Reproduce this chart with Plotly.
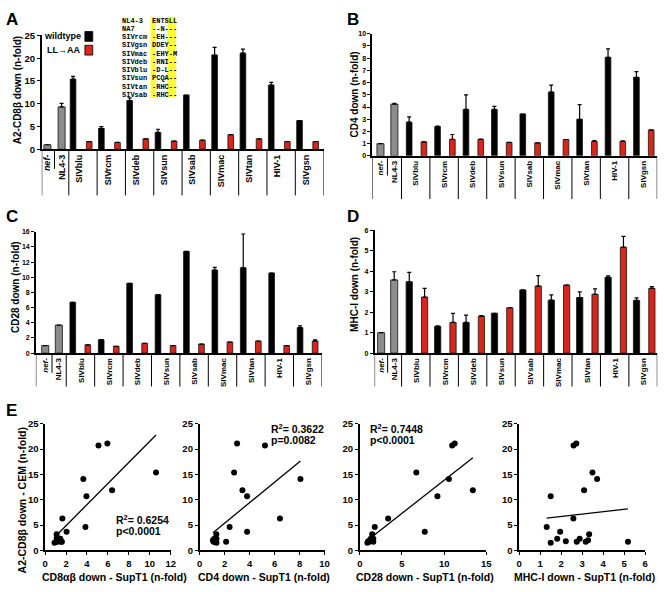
import numpy as np
import plotly.graph_objects as go

W, H = 664, 592
FONT = "Liberation Sans, Arial, sans-serif"
MONO = "Liberation Mono, Courier New, monospace"
BLACK = "#000000"
RED = "#d8261c"
GRAY = "#8c8c8c"

# ---------------- data ----------------
strains = ["SIVblu", "SIVrcm", "SIVdeb", "SIVsun", "SIVsab", "SIVmac", "SIVtan", "HIV-1", "SIVgsn"]
ctrl_labels = ["<i>nef-</i>", "NL4-3"]

# Panel A: A2-CD8beta down (CEM)
a_ctrl = [1.0, 9.3]
a_ctrl_err = [0.0, 0.8]
a_wt = [15.4, 4.6, 10.7, 3.7, 11.9, 20.7, 21.1, 14.1, 6.3]
a_wt_err = [0.6, 0.4, 0.6, 0.7, 0.0, 1.7, 0.9, 0.6, 0.0]
a_ll = [1.7, 1.5, 2.3, 1.8, 2.0, 3.2, 2.3, 1.7, 1.7]
a_ll_err = [0.0, 0.0, 0.0, 0.0, 0.0, 0.0, 0.0, 0.0, 0.0]

# Panel B: CD4 down
b_ctrl = [1.0, 4.24]
b_ctrl_err = [0.0, 0.06]
b_wt = [2.76, 2.4, 3.8, 3.8, 3.43, 5.23, 3.0, 8.07, 6.43]
b_wt_err = [0.44, 0.03, 1.2, 0.25, 0.0, 0.57, 1.2, 0.7, 0.47]
b_ll = [1.15, 1.35, 1.35, 1.1, 1.07, 1.34, 1.18, 1.18, 2.12]
b_ll_err = [0.0, 0.4, 0.03, 0.0, 0.0, 0.0, 0.06, 0.05, 0.02]

# Panel C: CD28 down
c_ctrl = [1.0, 3.7]
c_ctrl_err = [0.0, 0.0]
c_wt = [6.7, 1.77, 9.2, 7.7, 13.4, 10.95, 11.25, 10.56, 3.36]
c_wt_err = [0.0, 0.0, 0.0, 0.0, 0.0, 0.35, 4.45, 0.0, 0.24]
c_ll = [1.1, 0.9, 1.3, 1.0, 1.2, 1.47, 1.6, 1.0, 1.6]
c_ll_err = [0.0, 0.0, 0.0, 0.0, 0.0, 0.0, 0.0, 0.0, 0.15]

# Panel D: MHC-I down
d_ctrl = [1.0, 3.58]
d_ctrl_err = [0.0, 0.4]
d_wt = [3.49, 1.31, 1.5, 1.95, 3.09, 2.59, 2.72, 3.71, 2.58]
d_wt_err = [0.46, 0.03, 0.36, 0.0, 0.0, 0.26, 0.28, 0.07, 0.12]
d_ll = [2.74, 1.5, 1.81, 2.22, 3.28, 3.33, 2.88, 5.18, 3.17]
d_ll_err = [0.43, 0.44, 0.03, 0.0, 0.51, 0.0, 0.26, 0.53, 0.08]

# Panel E1: CD8alpha-beta down in SupT1 (x) vs A2-CD8beta down in CEM (y)
e1_wt_x = [10.6, 3.85, 3.95, 2.05, 6.4, 5.1, 5.95, 3.65, 1.65]
e1_ll_x = [1.55, 0.9, 1.1, 1.25, 1.35, 1.1, 1.45, 1.2, 1.6]

# Sequence inset
seq_names = ["NL4-3", "NA7", "SIVrcm", "SIVgsn", "SIVmac", "SIVdeb", "SIVblu", "SIVsun", "SIVtan", "SIVsab"]
seq_motifs = ["ENTSLL", "--N---", "-EH---", "DDEY--", "-EHY-M", "-RNI--", "-D-L--", "PCQA--", "-RHC--", "-RHC--"]

r2_texts = ["R<sup>2</sup>= 0.6254", "R<sup>2</sup>= 0.3622", "R<sup>2</sup>= 0.7448", None]
p_texts = ["p&lt;0.0001", "p=0.0082", "p&lt;0.0001", None]


def px(x):
    return x / W


def py(y):
    return 1 - y / H


fig = go.Figure()
shapes = []
annotations = []

bar_panels = [
    dict(letter="A", ctrl=a_ctrl, ctrl_err=a_ctrl_err, wt=a_wt, wt_err=a_wt_err, ll=a_ll, ll_err=a_ll_err,
         axis_px=39.3, gw=28.7, s1=0.955, ctrl_x=[0.2, 0.70], wt_off=0.15, ll_off=0.72, lab_off=0.37,
         bw=0.2, cw=0.25, ybot=146, ytop=30, ymax=25, dtick=5, sep=47, tfs=9.5, cfs=9,
         title="A2-CD8β down (n-fold)", tx=15, ty=86, letter_xy=(1, 2)),
    dict(letter="B", ctrl=b_ctrl, ctrl_err=b_ctrl_err, wt=b_wt, wt_err=b_wt_err, ll=b_ll, ll_err=b_ll_err,
         axis_px=374.3, gw=28.8, s1=1.03, ctrl_x=[0.29, 0.78], wt_off=0.27, ll_off=0.79, lab_off=0.5,
         bw=0.2, cw=0.25, ybot=152.7, ytop=28.3, ymax=10, dtick=1, sep=44, tfs=7, cfs=8,
         title="CD4 down (n-fold)", tx=356, ty=90, letter_xy=(347, 2)),
    dict(letter="C", ctrl=c_ctrl, ctrl_err=c_ctrl_err, wt=c_wt, wt_err=c_wt_err, ll=c_ll, ll_err=c_ll_err,
         axis_px=33.3, gw=28.8, s1=1.07, ctrl_x=[0.33, 0.81], wt_off=0.23, ll_off=0.76, lab_off=0.52,
         bw=0.2, cw=0.25, ybot=353.7, ytop=230, ymax=16, dtick=2, sep=34, tfs=7, cfs=8,
         title="CD28 down (n-fold)", tx=12.5, ty=286, letter_xy=(1, 203)),
    dict(letter="D", ctrl=d_ctrl, ctrl_err=d_ctrl_err, wt=d_wt, wt_err=d_wt_err, ll=d_ll, ll_err=d_ll_err,
         axis_px=376.7, gw=28.8, s1=0.95, ctrl_x=[0.23, 0.69], wt_off=0.27, ll_off=0.81, lab_off=0.53,
         bw=0.22, cw=0.25, ybot=353.7, ytop=228.7, ymax=6, dtick=1, sep=34, tfs=7, cfs=8,
         title="MHC-I down (n-fold)", tx=357, ty=284, letter_xy=(347, 203)),
]

layout_axes = {}


def err_dict(arr):
    return dict(type="data", array=arr, arrayminus=[0] * len(arr), symmetric=False,
                color=BLACK, thickness=1.2, width=2)


for i, p in enumerate(bar_panels):
    n = i + 1
    xa = "x" if n == 1 else f"x{n}"
    ya = "y" if n == 1 else f"y{n}"
    xend = p["s1"] + len(strains)
    wt_x = [p["s1"] + g + p["wt_off"] for g in range(len(strains))]
    ll_x = [p["s1"] + g + p["ll_off"] for g in range(len(strains))]
    lab_x = [p["s1"] + g + p["lab_off"] for g in range(len(strains))]
    line = dict(color="#111111", width=0.8)
    fig.add_trace(go.Bar(x=p["ctrl_x"], y=p["ctrl"], width=p["cw"], marker=dict(color=GRAY, line=line),
                         error_y=err_dict(p["ctrl_err"]), xaxis=xa, yaxis=ya, name="control"))
    fig.add_trace(go.Bar(x=wt_x, y=p["wt"], width=p["bw"], marker=dict(color=BLACK, line=line),
                         error_y=err_dict(p["wt_err"]), xaxis=xa, yaxis=ya, name="wildtype"))
    fig.add_trace(go.Bar(x=ll_x, y=p["ll"], width=p["bw"], marker=dict(color=RED, line=line),
                         error_y=err_dict(p["ll_err"]), xaxis=xa, yaxis=ya, name="LL→AA"))
    x0 = p["axis_px"]
    x1 = p["axis_px"] + xend * p["gw"]
    plot_h = p["ybot"] - p["ytop"]
    layout_axes["xaxis" if n == 1 else f"xaxis{n}"] = dict(
        domain=[px(x0), min(px(x1), 0.999)], range=[0, xend], anchor=ya, showline=True, linecolor=BLACK,
        linewidth=1.5, ticks="", showgrid=False, zeroline=False,
        tickvals=p["ctrl_x"] + lab_x, ticktext=ctrl_labels + strains, tickangle=-90,
        tickfont=dict(family=FONT, size=p["cfs"], color=BLACK, weight="bold"))
    layout_axes["yaxis" if n == 1 else f"yaxis{n}"] = dict(
        domain=[py(p["ybot"]), py(p["ytop"])], range=[0, p["ymax"]], dtick=p["dtick"], anchor=xa,
        showline=True, linecolor=BLACK, linewidth=1.5, ticks="outside", ticklen=3, tickwidth=1.2,
        tickcolor=BLACK, showgrid=False, zeroline=False,
        tickfont=dict(family=FONT, size=p["tfs"], color=BLACK, weight="bold"))
    # category separators
    seps = [0.0] + [p["s1"] + g for g in range(len(strains) + 1)]
    for s in seps:
        shapes.append(dict(type="line", xref=xa, yref=f"{ya} domain", x0=s, x1=s, y0=0,
                           y1=-p["sep"] / plot_h, line=dict(color=BLACK, width=1)))
    mid = (p["ctrl_x"][0] + p["ctrl_x"][1]) / 2
    shapes.append(dict(type="line", xref=xa, yref=f"{ya} domain", x0=mid, x1=mid, y0=0,
                       y1=-20 / plot_h, line=dict(color=BLACK, width=1)))
    annotations.append(dict(text=p["title"], x=px(p["tx"]), y=py(p["ty"]), xref="paper", yref="paper",
                            textangle=-90, showarrow=False, xanchor="center", yanchor="middle",
                            font=dict(family=FONT, size=10, color=BLACK, weight="bold")))
    lx, ly = p["letter_xy"]
    annotations.append(dict(text=p["letter"], x=px(lx), y=py(ly), xref="paper", yref="paper",
                            showarrow=False, xanchor="left", yanchor="top",
                            font=dict(family=FONT, size=17, color=BLACK, weight="bold")))

# Legend of panel A
annotations.append(dict(text="wildtype", x=px(81), y=py(31), xref="paper", yref="paper", showarrow=False,
                        xanchor="right", yanchor="middle", font=dict(family=FONT, size=9, color=BLACK, weight="bold")))
annotations.append(dict(text="LL→AA", x=px(80), y=py(45), xref="paper", yref="paper", showarrow=False,
                        xanchor="right", yanchor="middle", font=dict(family=FONT, size=9, color=BLACK, weight="bold")))
shapes.append(dict(type="rect", xref="paper", yref="paper", x0=px(83), x1=px(91), y0=py(36), y1=py(26),
                   fillcolor=BLACK, line=dict(color=BLACK, width=0.8)))
shapes.append(dict(type="rect", xref="paper", yref="paper", x0=px(83), x1=px(91), y0=py(50), y1=py(40),
                   fillcolor=RED, line=dict(color=BLACK, width=0.8)))

# Sequence inset with yellow highlights
shapes.append(dict(type="rect", xref="paper", yref="paper", x0=px(149.5), x1=px(154.2), y0=py(93), y1=py(11),
                   fillcolor="#ffff33", line=dict(width=0), layer="below"))
shapes.append(dict(type="rect", xref="paper", yref="paper", x0=px(166.6), x1=px(175.6), y0=py(93), y1=py(11),
                   fillcolor="#ffff33", line=dict(width=0), layer="below"))
for k, (nm, mt) in enumerate(zip(seq_names, seq_motifs)):
    yy = 15 + k * 8.4
    annotations.append(dict(text=nm, x=px(120), y=py(yy), xref="paper", yref="paper", showarrow=False,
                            xanchor="left", yanchor="middle", borderpad=0,
                            font=dict(family=MONO, size=7, color=BLACK, weight="bold")))
    annotations.append(dict(text=mt, x=px(149.6), y=py(yy), xref="paper", yref="paper", showarrow=False,
                            xanchor="left", yanchor="middle", borderpad=0,
                            font=dict(family=MONO, size=7, color=BLACK, weight="bold")))

# ---------------- Panel E scatter plots ----------------
scatter_panels = [
    dict(wx=e1_wt_x, lx=e1_ll_x, x0=42.7, x1=170, xmax=12, dtick=2,
         title="CD8αβ down - SupT1 (n-fold)", tcx=113, r2xy=(113, 523)),
    dict(wx=b_wt, lx=b_ll, x0=199.3, x1=326, xmax=10, dtick=2,
         title="CD4 down - SupT1 (n-fold)", tcx=265, r2xy=(270, 430.5)),
    dict(wx=c_wt, lx=c_ll, x0=361.7, x1=490, xmax=15, dtick=5,
         title="CD28 down - SupT1 (n-fold)", tcx=427.5, r2xy=(370, 430.5)),
    dict(wx=d_wt, lx=d_ll, x0=523.3, x1=651, xmax=6, dtick=1,
         title="MHC-I down - SupT1 (n-fold)", tcx=589, r2xy=None),
]
ys_all = a_wt + a_ll
for j, s in enumerate(scatter_panels):
    n = 5 + j
    xa, ya = f"x{n}", f"y{n}"
    xs_all = list(s["wx"]) + list(s["lx"])
    fig.add_trace(go.Scatter(x=xs_all, y=ys_all, mode="markers", xaxis=xa, yaxis=ya,
                             marker=dict(color=BLACK, size=6), cliponaxis=False, name="strains"))
    coef = np.polyfit(xs_all, ys_all, 1)
    xl = np.array([min(xs_all), max(xs_all)])
    fig.add_trace(go.Scatter(x=xl, y=np.polyval(coef, xl), mode="lines", xaxis=xa, yaxis=ya,
                             line=dict(color=BLACK, width=1.3), name="fit"))
    layout_axes[f"xaxis{n}"] = dict(
        domain=[px(s["x0"]), px(s["x1"])], range=[0, s["xmax"]], dtick=s["dtick"], anchor=ya,
        showline=True, linecolor=BLACK, linewidth=1.5, ticks="outside", ticklen=3, tickwidth=1.2,
        tickcolor=BLACK, showgrid=False, zeroline=False,
        tickfont=dict(family=FONT, size=9.5, color=BLACK, weight="bold"))
    layout_axes[f"yaxis{n}"] = dict(
        domain=[py(554.7), py(425.7)], range=[0, 25], dtick=5, anchor=xa,
        showline=True, linecolor=BLACK, linewidth=1.5, ticks="outside", ticklen=3, tickwidth=1.2,
        tickcolor=BLACK, showgrid=False, zeroline=False,
        tickfont=dict(family=FONT, size=9.5, color=BLACK, weight="bold"))
    annotations.append(dict(text=s["title"], x=px(s["tcx"]), y=py(582), xref="paper", yref="paper",
                            showarrow=False, xanchor="center", yanchor="middle",
                            font=dict(family=FONT, size=10.5, color=BLACK, weight="bold")))
    if s["r2xy"] is not None:
        rx, ry = s["r2xy"]
        annotations.append(dict(text=r2_texts[j], x=px(rx), y=py(ry), xref="paper", yref="paper",
                                showarrow=False, xanchor="left", yanchor="middle",
                                font=dict(family=FONT, size=10.5, color=BLACK, weight="bold")))
        annotations.append(dict(text=p_texts[j], x=px(rx), y=py(ry + 12), xref="paper", yref="paper",
                                showarrow=False, xanchor="left", yanchor="middle",
                                font=dict(family=FONT, size=10.5, color=BLACK, weight="bold")))

annotations.append(dict(text="A2-CD8β down - CEM (n-fold)", x=px(19), y=py(504), xref="paper", yref="paper",
                        textangle=-90, showarrow=False, xanchor="center", yanchor="middle",
                        font=dict(family=FONT, size=10.5, color=BLACK, weight="bold")))
annotations.append(dict(text="E", x=px(1), y=py(400), xref="paper", yref="paper", showarrow=False,
                        xanchor="left", yanchor="top", font=dict(family=FONT, size=17, color=BLACK, weight="bold")))

fig.update_layout(
    width=W, height=H, margin=dict(l=0, r=0, t=0, b=0),
    paper_bgcolor="white", plot_bgcolor="white", showlegend=False, barmode="overlay",
    font=dict(family=FONT, color=BLACK),
    shapes=shapes, annotations=annotations, **layout_axes)

fig.write_html("out.html", config={"displayModeBar": False},
               post_script="document.body.style.margin='0px';document.body.style.overflow='hidden';")
